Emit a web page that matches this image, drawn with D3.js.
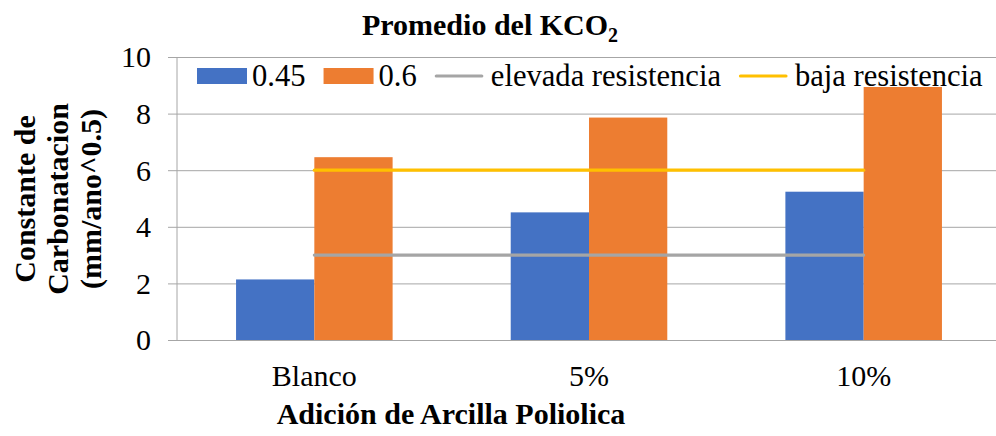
<!DOCTYPE html>
<html>
<head>
<meta charset="utf-8">
<script src="https://cdn.jsdelivr.net/npm/d3@7/dist/d3.min.js"></script>
<style>
  html, body { margin: 0; padding: 0; background: #fff; }
  svg { display: block; }
  svg text { font-family: "Liberation Serif", "Times New Roman", serif; }
</style>
</head>
<body>
<svg id="chart" width="996" height="436" font-family="Liberation Serif"></svg>
<script>
// Categories and series values
const categories = ["Blanco", "5%", "10%"];
const seriesNames = ["0.45", "0.6"];
const values045 = [2.14, 4.51, 5.24];
const values06 = [6.46, 7.86, 8.94];
const elevadaResistencia = [3, 3, 3];
const bajaResistencia = [6, 6, 6];
const yTicks = [0, 2, 4, 6, 8, 10];

const barColors = ["#4472C4", "#ED7D31"];
const lineSeries = [
  { name: "elevada resistencia", values: elevadaResistencia, color: "#A5A5A5" },
  { name: "baja resistencia", values: bajaResistencia, color: "#FFC000" }
];

const serif = "Liberation Serif";
const svg = d3.select("#chart");
const plot = { left: 177, right: 1001, top: 57, bottom: 340 };
const fontSize = 30;
const legendFont = 30.6;

const x = d3.scaleBand()
  .domain(categories)
  .range([plot.left, plot.right])
  .paddingInner(0.43)
  .paddingOuter(0.215);

const xSub = d3.scaleBand()
  .domain(seriesNames)
  .range([0, x.bandwidth()]);

const y = d3.scaleLinear().domain([0, 10]).range([plot.bottom, plot.top]);

// Gridlines and ticks
const yAxis = d3.axisLeft(y)
  .tickValues(yTicks)
  .tickSize(-(996 - plot.left))
  .tickFormat(d3.format("d"));

const gY = svg.append("g")
  .attr("transform", `translate(${plot.left},0)`)
  .call(yAxis)
  .attr("font-family", serif)
  .attr("font-size", fontSize);
gY.select(".domain").remove();
gY.selectAll(".tick line").attr("stroke", "#a6a6a6").attr("stroke-width", 1)
  .attr("x1", -9);
gY.selectAll(".tick text")
  .attr("font-size", fontSize)
  .attr("fill", "#000")
  .attr("font-family", serif)
  .attr("dy", "0.33em")
  .attr("x", -26);

// Vertical value axis line
svg.append("line")
  .attr("x1", plot.left).attr("x2", plot.left)
  .attr("y1", y(10)).attr("y2", y(0))
  .attr("stroke", "#a6a6a6").attr("stroke-width", 1);

// Bars
const barData = [values045, values06];
const barGroup = svg.append("g");
categories.forEach((cat, i) => {
  seriesNames.forEach((s, j) => {
    const v = barData[j][i];
    barGroup.append("rect")
      .attr("x", x(cat) + xSub(s))
      .attr("y", y(v))
      .attr("width", xSub.bandwidth())
      .attr("height", y(0) - y(v))
      .attr("fill", barColors[j]);
  });
});

// Reference lines through category centres
const line = d3.line()
  .x((d, i) => x(categories[i]) + x.bandwidth() / 2)
  .y(d => y(d));

lineSeries.forEach(ls => {
  svg.append("path")
    .attr("d", line(ls.values))
    .attr("fill", "none")
    .attr("stroke", ls.color)
    .attr("stroke-width", 3.2)
    .attr("stroke-linecap", "round");
});

// Category labels
svg.append("g").selectAll("text")
  .data(categories)
  .join("text")
  .attr("x", d => x(d) + x.bandwidth() / 2)
  .attr("y", 386)
  .attr("text-anchor", "middle")
  .attr("font-family", serif)
  .attr("font-size", fontSize)
  .text(d => d);

// Chart title with subscript
const title = svg.append("text")
  .attr("x", 490)
  .attr("y", 35)
  .attr("text-anchor", "middle")
  .attr("font-family", serif)
  .attr("font-size", fontSize)
  .attr("font-weight", "bold");
title.append("tspan").text("Promedio del KCO");
title.append("tspan").attr("font-size", 20).attr("dy", 7).text("2");

// Axis titles
svg.append("text")
  .attr("x", 451)
  .attr("y", 424)
  .attr("text-anchor", "middle")
  .attr("font-family", serif)
  .attr("font-size", fontSize)
  .attr("font-weight", "bold")
  .text("Adición de Arcilla Poliolica");

const yTitleLines = ["Constante de", "Carbonatacion", "(mm/ano^0.5)"];
const yTitle = svg.append("text")
  .attr("transform", "translate(0,199) rotate(-90)")
  .attr("text-anchor", "middle")
  .attr("font-family", serif)
  .attr("font-size", fontSize)
  .attr("font-weight", "bold");
yTitleLines.forEach((t, i) => {
  yTitle.append("tspan")
    .attr("x", 0)
    .attr("y", 35 + i * 33)
    .text(t);
});

// Legend
const legendItems = [
  { name: seriesNames[0], color: barColors[0], type: "rect" },
  { name: seriesNames[1], color: barColors[1], type: "rect" },
  { name: lineSeries[0].name, color: lineSeries[0].color, type: "line" },
  { name: lineSeries[1].name, color: lineSeries[1].color, type: "line" }
];
const legend = svg.append("g");
let lx = 197;
const ly = 76;
legendItems.forEach(item => {
  if (item.type === "rect") {
    legend.append("rect")
      .attr("x", lx).attr("y", ly - 8)
      .attr("width", 50).attr("height", 16)
      .attr("fill", item.color);
    lx += 55;
  } else {
    legend.append("line")
      .attr("x1", lx + 1.5).attr("x2", lx + 47)
      .attr("y1", ly).attr("y2", ly)
      .attr("stroke", item.color)
      .attr("stroke-width", 3.2)
      .attr("stroke-linecap", "round");
    lx += 56;
  }
  const t = legend.append("text")
    .attr("x", lx)
    .attr("y", ly + 10)
    .attr("font-family", serif)
    .attr("font-size", legendFont)
    .text(item.name);
  lx += t.node().getComputedTextLength() + 18;
});
</script>
</body>
</html>
